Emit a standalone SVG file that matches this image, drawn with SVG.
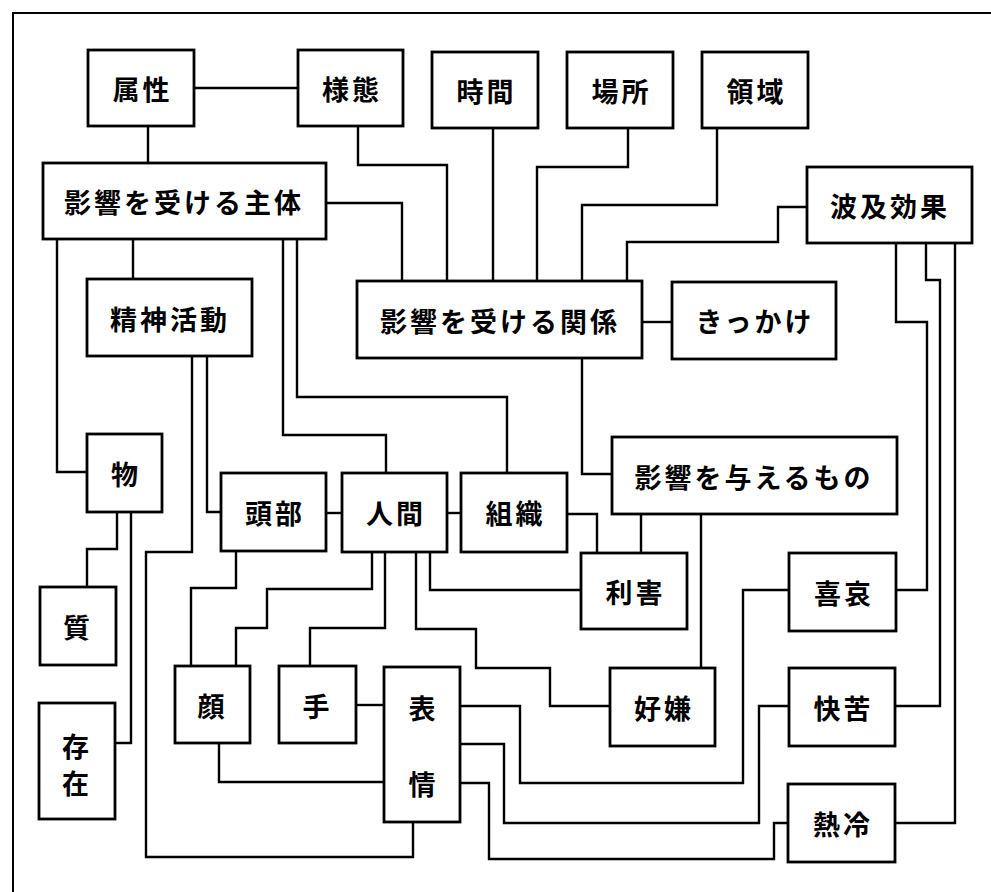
<svg xmlns="http://www.w3.org/2000/svg" width="991" height="892" viewBox="0 0 991 892">
<style>
.frame{fill:none;stroke:#000;stroke-width:2}
.c{fill:none;stroke:#000;stroke-width:2.4;stroke-linejoin:miter}
.n rect{fill:#fff;stroke:#000;stroke-width:2.8}
.n text{font-family:"Noto Sans CJK JP","Noto Sans CJK SC",sans-serif;font-size:27px;font-weight:700;fill:#000;text-anchor:middle;dominant-baseline:central;letter-spacing:3px}
</style>
<rect width="991" height="892" fill="#fff"/>
<polyline class="frame" points="13,892 13,13 991,13"/>
<g id="connectors">
<polyline class="c" points="194,88 298,88"/>
<polyline class="c" points="148,126 148,163"/>
<polyline class="c" points="358,126 358,165 447,165 447,281"/>
<polyline class="c" points="493,128 493,281"/>
<polyline class="c" points="628,128 628,167 537,167 537,281"/>
<polyline class="c" points="717,128 717,205 582,205 582,281"/>
<polyline class="c" points="807,207 778,207 778,242 627,242 627,281"/>
<polyline class="c" points="326,203 402,203 402,281"/>
<polyline class="c" points="642,322 672,322"/>
<polyline class="c" points="582,358 582,474 612,474"/>
<polyline class="c" points="133,239 133,279"/>
<polyline class="c" points="57,239 57,472 87,472"/>
<polyline class="c" points="283,239 283,435 386,435 386,473"/>
<polyline class="c" points="297,239 297,397 507,397 507,473"/>
<polyline class="c" points="207,356 207,512 221,512"/>
<polyline class="c" points="192,356 192,552 146,552 146,857 413,857 413,822"/>
<polyline class="c" points="117,512 117,549 87,549 87,587"/>
<polyline class="c" points="131,512 131,743 115,743"/>
<polyline class="c" points="326,513 342,513"/>
<polyline class="c" points="236,551 236,588 191,588 191,666"/>
<polyline class="c" points="372,552 372,589 267,589 267,628 236,628 236,666"/>
<polyline class="c" points="385,552 385,628 310,628 310,666"/>
<polyline class="c" points="416,552 416,629 476,629 476,668 550,668 550,706 610,706"/>
<polyline class="c" points="430,552 430,590 581,590"/>
<polyline class="c" points="447,513 461,513"/>
<polyline class="c" points="567,514 597,514 597,553"/>
<polyline class="c" points="641,514 641,553"/>
<polyline class="c" points="701,514 701,668"/>
<polyline class="c" points="356,705 384,705"/>
<polyline class="c" points="219,743 219,782 384,782"/>
<polyline class="c" points="460,706 520,706 520,783 743,783 743,590 789,590"/>
<polyline class="c" points="460,744 504,744 504,823 759,823 759,706 789,706"/>
<polyline class="c" points="460,783 489,783 489,859 774,859 774,823 788,823"/>
<polyline class="c" points="896,243 896,322 927,322 927,590 896,590"/>
<polyline class="c" points="926,243 926,280 940,280 940,706 895,706"/>
<polyline class="c" points="955,243 955,823 895,823"/>
</g>
<g id="zokusei" class="n"><rect x="88" y="50" width="106" height="76"/><text x="142.5" y="88">属性</text></g>
<g id="youtai" class="n"><rect x="298" y="50" width="105" height="76"/><text x="352" y="88">様態</text></g>
<g id="jikan" class="n"><rect x="432" y="52" width="106" height="76"/><text x="486.5" y="90">時間</text></g>
<g id="basho" class="n"><rect x="567" y="52" width="106" height="76"/><text x="621.5" y="90">場所</text></g>
<g id="ryouiki" class="n"><rect x="702" y="52" width="106" height="76"/><text x="756.5" y="90">領域</text></g>
<g id="shutai" class="n"><rect x="43" y="163" width="283" height="76"/><text x="184" y="201">影響を受ける主体</text></g>
<g id="hakyu" class="n"><rect x="807" y="167" width="165" height="76"/><text x="890" y="205">波及効果</text></g>
<g id="kankei" class="n"><rect x="357" y="281" width="285" height="77"/><text x="500" y="320">影響を受ける関係</text></g>
<g id="kikkake" class="n"><rect x="672" y="282" width="164" height="77"/><text x="755" y="320">きっかけ</text></g>
<g id="seishin" class="n"><rect x="87" y="279" width="165" height="77"/><text x="170" y="318">精神活動</text></g>
<g id="mono" class="n"><rect x="87" y="434" width="75" height="78"/><text x="126" y="473">物</text></g>
<g id="toubu" class="n"><rect x="221" y="473" width="105" height="78"/><text x="275" y="512">頭部</text></g>
<g id="ningen" class="n"><rect x="342" y="473" width="105" height="79"/><text x="396" y="512">人間</text></g>
<g id="soshiki" class="n"><rect x="461" y="473" width="106" height="79"/><text x="515.5" y="512">組織</text></g>
<g id="ataeru" class="n"><rect x="612" y="437" width="285" height="77"/><text x="754" y="476">影響を与えるもの</text></g>
<g id="rigai" class="n"><rect x="581" y="553" width="106" height="76"/><text x="635.5" y="591">利害</text></g>
<g id="kiai" class="n"><rect x="789" y="553" width="107" height="78"/><text x="844" y="592">喜哀</text></g>
<g id="shitsu" class="n"><rect x="40" y="587" width="76" height="78"/><text x="78" y="626">質</text></g>
<g id="sonzai" class="n"><rect x="39" y="703" width="76" height="116"/><text x="77" y="745">存</text><text x="77" y="782">在</text></g>
<g id="kao" class="n"><rect x="175" y="666" width="75" height="77"/><text x="212.5" y="705">顔</text></g>
<g id="te" class="n"><rect x="279" y="666" width="77" height="77"/><text x="317.5" y="705">手</text></g>
<g id="hyoujou" class="n"><rect x="384" y="667" width="76" height="155"/><text x="423.5" y="707">表</text><text x="423.5" y="783">情</text></g>
<g id="kouken" class="n"><rect x="610" y="668" width="105" height="78"/><text x="664" y="707">好嫌</text></g>
<g id="kaiku" class="n"><rect x="789" y="668" width="106" height="78"/><text x="843.5" y="707">快苦</text></g>
<g id="netsurei" class="n"><rect x="788" y="784" width="107" height="78"/><text x="843" y="823">熱冷</text></g>
</svg>
